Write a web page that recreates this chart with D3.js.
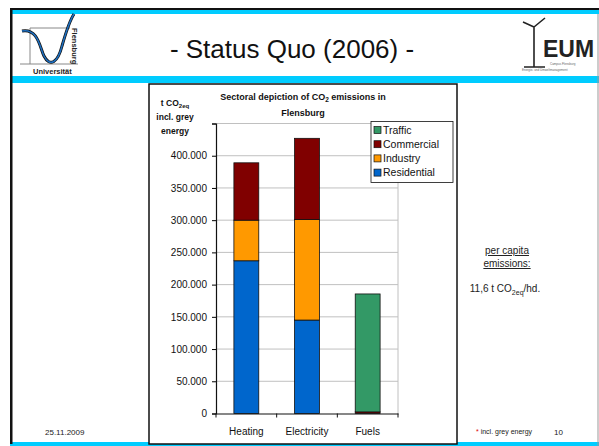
<!DOCTYPE html>
<html>
<head>
<meta charset="utf-8">
<script src="https://cdn.jsdelivr.net/npm/d3@7"></script>
<style>
  body { margin: 0; background: #fff; }
  svg { display: block; font-family: "Liberation Sans", Arial, sans-serif; }
</style>
</head>
<body>
<div id="chart-container"></div>
<script>
const categories = ['Heating', 'Electricity', 'Fuels'];
const seriesNames = ['Residential', 'Industry', 'Commercial', 'Traffic'];
const residential = [237000, 145000, 0];
const industry = [63000, 156000, 0];
const commercial = [89000, 126000, 2500];
const traffic = [0, 0, 183000];
const seriesColors = ['#0066cc', '#ff9900', '#800000', '#339966'];
const yTickValues = [0, 50000, 100000, 150000, 200000, 250000, 300000, 350000, 400000];

const width = 599, height = 446;
const svg = d3.select('#chart-container').append('svg')
  .attr('width', width).attr('height', height);

// slide frame
svg.append('rect').attr('x', 10).attr('y', 8).attr('width', 589).attr('height', 2).attr('fill', '#111');
svg.append('rect').attr('x', 10).attr('y', 10).attr('width', 589).attr('height', 4).attr('fill', '#00ccff');
svg.append('rect').attr('x', 10).attr('y', 76).attr('width', 589).attr('height', 7).attr('fill', '#00ccff');
svg.append('rect').attr('x', 10).attr('y', 442).attr('width', 589).attr('height', 4).attr('fill', '#00ccff');
svg.append('rect').attr('x', 10).attr('y', 8).attr('width', 2.5).attr('height', 436).attr('fill', '#111');
svg.append('line').attr('x1', 598).attr('x2', 598).attr('y1', 14).attr('y2', 446).attr('stroke', '#999');

svg.append('text').attr('x', 292).attr('y', 58).attr('text-anchor', 'middle')
  .attr('font-size', 26).attr('fill', '#111').text('- Status Quo (2006) -');

// university logo (simplified)
const uni = svg.append('g');
uni.append('path').attr('d', 'M30,28 V64 M20,64 H78 M30,28 H70').attr('stroke', '#888').attr('fill', 'none');
uni.append('path').attr('d', 'M22,31 C38,28 40,48 44,56 C50,68 58,62 62,46 C66,32 70,20 74,14')
  .attr('stroke', '#111').attr('stroke-width', 3).attr('fill', 'none');
uni.append('path').attr('d', 'M22,31 C38,28 40,48 44,56 C50,68 58,62 62,46 C66,32 70,20 74,14')
  .attr('stroke', '#1e6fc0').attr('stroke-width', 1.5).attr('fill', 'none');
uni.append('text').attr('transform', 'translate(72,28) rotate(90)').attr('font-size', 7.5)
  .attr('font-weight', 'bold').attr('fill', '#222').text('Flensburg');
uni.append('text').attr('x', 33).attr('y', 74).attr('font-size', 7.5).attr('font-weight', 'bold')
  .attr('fill', '#222').text('Universität');

// EUM logo (simplified)
const eum = svg.append('g');
eum.append('path').attr('d', 'M534,27 V67 M524,67 H545 M534,27 L523,22 M534,27 L545,18 M534,27 L534,38')
  .attr('stroke', '#222').attr('stroke-width', 1.6).attr('fill', 'none');
eum.append('text').attr('x', 543).attr('y', 57).attr('font-size', 23).attr('font-weight', 'bold')
  .attr('fill', '#222').text('EUM');
eum.append('text').attr('x', 550).attr('y', 65).attr('font-size', 3).attr('fill', '#666').text('Campus Flensburg');
eum.append('text').attr('x', 522).attr('y', 71).attr('font-size', 3).attr('fill', '#666').text('Energie- und Umweltmanagement');

// footer
svg.append('text').attr('x', 45).attr('y', 435).attr('font-size', 8).attr('fill', '#222').text('25.11.2009');
const foot = svg.append('text').attr('x', 476).attr('y', 434).attr('font-size', 7).attr('fill', '#222');
foot.append('tspan').attr('fill', '#e00000').text('* ');
foot.append('tspan').text('incl. grey energy');
svg.append('text').attr('x', 554).attr('y', 435).attr('font-size', 8).attr('fill', '#222').text('10');

// per capita note
const note = svg.append('g').attr('font-size', 10).attr('fill', '#222').attr('text-anchor', 'middle');
note.append('text').attr('x', 507).attr('y', 254).attr('text-decoration', 'underline').text('per capita');
note.append('text').attr('x', 507).attr('y', 267).attr('text-decoration', 'underline').text('emissions:');
const pc = note.append('text').attr('x', 505).attr('y', 292);
pc.append('tspan').text('11,6 t CO');
pc.append('tspan').attr('font-size', 7).attr('dy', 3).text('2eq');
pc.append('tspan').attr('dy', -3).text('/hd.');

// chart box
svg.append('rect').attr('x', 149).attr('y', 84).attr('width', 308).attr('height', 360)
  .attr('fill', '#fff').attr('stroke', '#111').attr('stroke-width', 1.5);

const title = svg.append('g').attr('font-size', 9).attr('font-weight', 'bold')
  .attr('text-anchor', 'middle').attr('fill', '#111');
const t1 = title.append('text').attr('x', 303).attr('y', 100);
t1.append('tspan').text('Sectoral depiction of CO');
t1.append('tspan').attr('font-size', 6.5).attr('dy', 2).text('2');
t1.append('tspan').attr('dy', -2).text(' emissions in');
title.append('text').attr('x', 303).attr('y', 116).text('Flensburg');

const yl = svg.append('g').attr('font-size', 8.5).attr('font-weight', 'bold')
  .attr('text-anchor', 'middle').attr('fill', '#111');
const yl1 = yl.append('text').attr('x', 175).attr('y', 106);
yl1.append('tspan').text('t CO');
yl1.append('tspan').attr('font-size', 6).attr('dy', 2).text('2eq');
yl.append('text').attr('x', 175).attr('y', 120).text('incl. grey');
yl.append('text').attr('x', 175).attr('y', 134).text('energy');

// plot
const plotLeft = 216, plotRight = 398, plotTop = 123.5, plotBottom = 413.5;
const x = d3.scaleBand().domain(categories).range([plotLeft, plotRight]).paddingInner(0.59).paddingOuter(0.295);
const y = d3.scaleLinear().domain([0, 450000]).range([plotBottom, plotTop]);

const grid = svg.append('g');
grid.selectAll('line').data(yTickValues.concat([450000]).slice(1)).enter().append('line')
  .attr('x1', plotLeft).attr('x2', plotRight)
  .attr('y1', d => y(d)).attr('y2', d => y(d))
  .attr('stroke', '#c0c0c0').attr('stroke-width', 1);
grid.append('line').attr('x1', plotRight).attr('x2', plotRight).attr('y1', plotTop).attr('y2', plotBottom)
  .attr('stroke', '#c0c0c0');

const tableRows = categories.map((c, i) => ({
  category: c,
  Residential: residential[i], Industry: industry[i], Commercial: commercial[i], Traffic: traffic[i]
}));
const stacked = d3.stack().keys(seriesNames)(tableRows);
const color = d3.scaleOrdinal().domain(seriesNames).range(seriesColors);

svg.append('g').selectAll('g').data(stacked).enter().append('g')
  .attr('fill', d => color(d.key))
  .selectAll('rect').data(d => d.filter(p => p[1] > p[0])).enter().append('rect')
  .attr('x', d => x(d.data.category))
  .attr('width', x.bandwidth())
  .attr('y', d => y(d[1]))
  .attr('height', d => y(d[0]) - y(d[1]))
  .attr('stroke', '#111').attr('stroke-width', 0.8);

const fmt = d => d3.format(',')(d).replace(/,/g, '.');
const yAxis = d3.axisLeft(y).tickValues(yTickValues.concat([450000])).tickSize(4).tickPadding(5)
  .tickFormat(d => d === 450000 ? '' : fmt(d));
const yg = svg.append('g').attr('transform', `translate(${plotLeft},0)`).call(yAxis);
yg.select('.domain').attr('stroke', '#111').attr('stroke-width', 1.2);
yg.selectAll('text').attr('font-size', 10).attr('fill', '#111').attr('font-family', '"Liberation Sans", Arial, sans-serif');

const xAxis = d3.axisBottom(x).tickSize(0).tickPadding(14);
const xg = svg.append('g').attr('transform', `translate(0,${plotBottom})`).call(xAxis);
xg.select('.domain').attr('stroke', '#111').attr('stroke-width', 1.2);
xg.selectAll('text').attr('font-size', 10).attr('fill', '#111').attr('font-family', '"Liberation Sans", Arial, sans-serif');
xg.selectAll('.bound').data(d3.range(categories.length + 1)).enter().append('line')
  .attr('x1', i => plotLeft + i * (plotRight - plotLeft) / categories.length)
  .attr('x2', i => plotLeft + i * (plotRight - plotLeft) / categories.length)
  .attr('y1', 0).attr('y2', 4).attr('stroke', '#111');

// legend
const legend = svg.append('g').attr('transform', 'translate(371,121.5)');
legend.append('rect').attr('width', 82).attr('height', 61).attr('fill', '#fff')
  .attr('stroke', '#111').attr('stroke-width', 0.8);
const legendOrder = seriesNames.slice().reverse();
const li = legend.selectAll('.legend-label').data(legendOrder).enter().append('g')
  .attr('class', 'legend-label')
  .attr('transform', (d, i) => `translate(3,${5 + i * 14.2})`);
li.append('rect').attr('width', 7).attr('height', 7).attr('fill', d => color(d))
  .attr('stroke', '#111').attr('stroke-width', 0.7);
li.append('text').attr('x', 9).attr('y', 7).attr('font-size', 10.5).attr('fill', '#111').text(d => d);
</script>
</body>
</html>
